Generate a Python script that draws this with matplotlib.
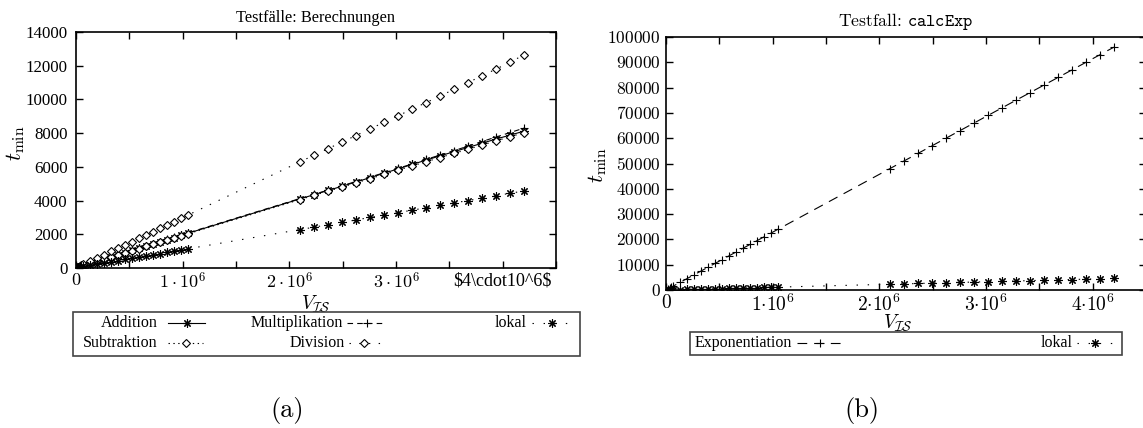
import matplotlib.pyplot as plt
import matplotlib.patches as mpatches
from matplotlib.lines import Line2D

plt.rcParams['mathtext.fontset'] = 'cm'
plt.rcParams['font.family'] = ['Liberation Serif', 'DejaVu Serif']
plt.rcParams['lines.scale_dashes'] = False

W, H = 1143, 428

# problem sizes V_IS
v_is = [16406, 32813, 49219, 65625, 131250, 196875, 262500, 328125, 393750, 459375,
        525000, 590625, 656250, 721875, 787500, 853125, 918750, 984375, 1050000,
        2100000, 2231250, 2362500, 2493750, 2625000, 2756250, 2887500, 3018750,
        3150000, 3281250, 3412500, 3543750, 3675000, 3806250, 3937500, 4068750, 4200000]

# t_min, panel (a)
t_add = [60, 90, 120, 150, 280, 400, 530, 660, 790, 910, 1040, 1170, 1300, 1420, 1550,
         1680, 1800, 1930, 2060,
         4100, 4350, 4600, 4850, 5100, 5360, 5620, 5880, 6140, 6400, 6650, 6900, 7150,
         7400, 7650, 7880, 8120]
t_mul = [65, 95, 125, 155, 285, 410, 540, 670, 800, 925, 1055, 1185, 1315, 1440, 1570,
         1700, 1825, 1955, 2085,
         4120, 4370, 4620, 4880, 5130, 5390, 5650, 5910, 6170, 6440, 6700, 6960, 7230,
         7500, 7770, 8030, 8300]
t_sub = [55, 85, 115, 145, 275, 395, 520, 650, 775, 900, 1025, 1155, 1280, 1400, 1530,
         1655, 1780, 1905, 2030,
         4060, 4310, 4560, 4800, 5050, 5300, 5550, 5800, 6050, 6300, 6550, 6800, 7040,
         7290, 7540, 7780, 8030]
t_div = [80, 130, 180, 230, 420, 610, 800, 990, 1180, 1380, 1570, 1760, 1960, 2150, 2350,
         2540, 2740, 2940, 3140,
         6300, 6690, 7080, 7470, 7860, 8250, 8640, 9030, 9420, 9810, 10200, 10600, 11000,
         11400, 11800, 12200, 12650]
t_lokal = [30, 50, 70, 90, 160, 230, 300, 370, 440, 510, 580, 650, 720, 790, 860,
           930, 1000, 1070, 1140,
           2280, 2420, 2570, 2710, 2850, 3000, 3140, 3280, 3430, 3570, 3710, 3860, 4000,
           4140, 4290, 4430, 4570]

# t_min, panel (b)
t_exp = [380, 750, 1130, 1500, 3000, 4500, 6000, 7500, 9000, 10500, 12000, 13500, 15000,
         16500, 18000, 19500, 21000, 22500, 24000,
         48000, 51000, 54000, 57000, 60000, 63000, 66000, 69000, 72000, 75000, 78000,
         81000, 84000, 87000, 90000, 93000, 96000]

xticks = [0, 500000, 1000000, 1500000, 2000000, 2500000, 3000000, 3500000, 4000000, 4500000]
xlabels_a = ['$0$', '', r'$1\cdot10^6$', '', r'$2\cdot10^6$', '', r'$3\cdot10^6$', '',
             r'\$4\cdot10^6\$', '']
xlabels_b = ['$0$', '', r'$1{\cdot}10^6$', '', r'$2{\cdot}10^6$', '', r'$3{\cdot}10^6$', '',
             r'$4{\cdot}10^6$', '']
yticks_a = [0, 2000, 4000, 6000, 8000, 10000, 12000, 14000]
yticks_b = [0, 10000, 20000, 30000, 40000, 50000, 60000, 70000, 80000, 90000, 100000]

ASTER = (8, 2, 0)
styles = {
    'Addition': dict(ls='-', marker=ASTER, ms=6),
    'Multiplikation': dict(ls=(0, (4, 3)), marker='+', ms=6),
    'Subtraktion': dict(ls=(0, (1, 2.5)), marker='D', ms=4.5, mfc='white'),
    'Division': dict(ls=(0, (1, 6)), marker='D', ms=4.5, mfc='white'),
    'lokal': dict(ls=(0, (1, 7)), marker=ASTER, ms=6),
    'Exponentiation': dict(ls=(0, (7, 5)), marker='+', ms=6),
}


def fbox(x0, y0, x1, y1):
    return [x0 / W, 1 - y1 / H, (x1 - x0) / W, (y1 - y0) / H]


def style_axes(ax, ysize, xsize):
    ax.tick_params(direction='in', top=True, right=True, length=5, width=1)
    ax.tick_params(axis='y', labelsize=ysize, pad=6)
    ax.tick_params(axis='x', labelsize=xsize, pad=3)
    for s in ax.spines.values():
        s.set_linewidth(1.2)


def legend_entry(fig, label, xr, y, x0, x1, xm, st):
    fig.text(xr / W, 1 - y / H, label, ha='right', va='center', fontsize=11.5)
    fig.add_artist(Line2D([x0 / W, x1 / W], [1 - y / H] * 2, transform=fig.transFigure,
                          color='black', lw=0.8, ls=st['ls']))
    fig.add_artist(Line2D([xm / W], [1 - y / H], transform=fig.transFigure, color='black',
                          lw=0, marker=st['marker'], ms=st['ms'],
                          mfc=st.get('mfc', 'black'), mec='black', mew=0.8))


fig = plt.figure(figsize=(W / 100, H / 100), dpi=100)

# panel (a)
ax1 = fig.add_axes(fbox(76, 32, 556, 268))
for name, ys in [('Addition', t_add), ('Multiplikation', t_mul), ('Subtraktion', t_sub),
                 ('Division', t_div), ('lokal', t_lokal)]:
    st = styles[name]
    ax1.plot(v_is, ys, color='black', lw=0.8, ls=st['ls'], marker=st['marker'],
             ms=st['ms'], mfc=st.get('mfc', 'black'), mec='black', mew=0.8)
ax1.set_xlim(0, 4500000)
ax1.set_ylim(0, 14000)
ax1.set_xticks(xticks)
ax1.set_xticklabels(xlabels_a)
ax1.set_yticks(yticks_a)
ax1.set_yticklabels([str(v) for v in yticks_a])
style_axes(ax1, 12.2, 13)
ax1.set_title('Testfälle: Berechnungen', fontsize=11.8, pad=7)
ax1.set_xlabel(r'$V_{\mathcal{IS}}$', fontsize=14, va='center')
ax1.xaxis.set_label_coords(0.5, -0.153)
ax1.set_ylabel(r'$t_{\min}$', fontsize=16, va='center')
ax1.yaxis.set_label_coords(-0.125, 0.53)

fig.add_artist(mpatches.Rectangle((73 / W, 1 - 356 / H), (580 - 73) / W, 44 / H,
                                  transform=fig.transFigure, fill=False,
                                  edgecolor='#444444', lw=1.2))
legend_entry(fig, 'Addition', 158, 323, 168, 205, 187, styles['Addition'])
legend_entry(fig, 'Multiplikation', 343, 323, 347, 385, 367, styles['Multiplikation'])
legend_entry(fig, 'lokal', 527, 323, 532, 572, 552, styles['lokal'])
legend_entry(fig, 'Subtraktion', 158, 343, 168, 203, 186, styles['Subtraktion'])
legend_entry(fig, 'Division', 345, 343, 349, 384, 364, styles['Division'])

# panel (b)
ax2 = fig.add_axes(fbox(666, 37, 1146, 290))
for name, ys in [('Exponentiation', t_exp), ('lokal', t_lokal)]:
    st = styles[name]
    ax2.plot(v_is, ys, color='black', lw=0.8, ls=st['ls'], marker=st['marker'],
             ms=st['ms'], mfc='black', mec='black', mew=0.8)
ax2.set_xlim(0, 4500000)
ax2.set_ylim(0, 100000)
ax2.set_xticks(xticks)
ax2.set_xticklabels(xlabels_b)
ax2.set_yticks(yticks_b)
ax2.set_yticklabels(['$%d$' % v for v in yticks_b])
style_axes(ax2, 12.5, 14)
ax2.tick_params(axis='y', pad=4)
ax2.set_title(r'Testfall: $\mathtt{calcExp}$', fontsize=12.7, pad=8, family='cmr10')
ax2.set_xlabel(r'$V_{\mathcal{IS}}$', fontsize=14, va='center')
ax2.xaxis.set_label_coords(0.483, -0.13)
ax2.set_ylabel(r'$t_{\min}$', fontsize=16, va='center')
ax2.yaxis.set_label_coords(-0.142, 0.494)

fig.add_artist(mpatches.Rectangle((690 / W, 1 - 355 / H), (1122 - 690) / W, 23 / H,
                                  transform=fig.transFigure, fill=False,
                                  edgecolor='#444444', lw=1.2))
legend_entry(fig, 'Exponentiation', 792, 343, 797, 842, 820, styles['Exponentiation'])
legend_entry(fig, 'lokal', 1073, 343, 1077, 1114, 1095, styles['lokal'])

fig.text(287 / W, 1 - 410 / H, '(a)', ha='center', va='center', fontsize=19, family='cmr10')
fig.text(862 / W, 1 - 410 / H, '(b)', ha='center', va='center', fontsize=19, family='cmr10')

fig.savefig('out.png', dpi=100)
